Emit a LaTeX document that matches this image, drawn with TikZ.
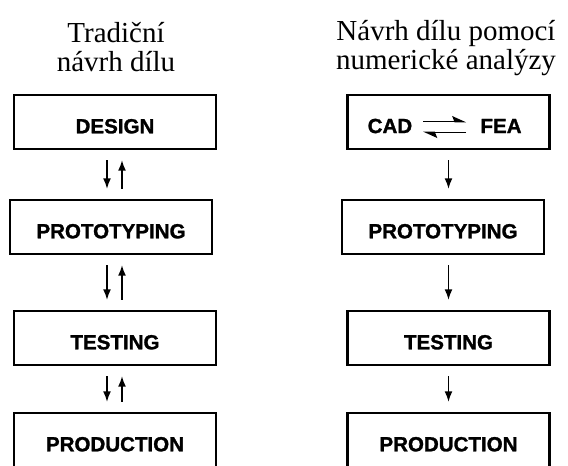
\documentclass[tikz,border=0pt]{standalone}
\usepackage{fontspec}
\setmainfont{Liberation Serif}
\setsansfont{Liberation Sans}
\newfontfamily\heavyfont{Liberation Sans}[BoldFeatures={FakeBold=1.3}]
\usetikzlibrary{arrows.meta}

\begin{document}
\begin{tikzpicture}[x=0.75pt, y=-0.75pt,
    stage/.style={draw, line width=1.6pt, minimum width=151.5pt, minimum height=40.5pt, inner sep=0pt,
        text height=17pt, text depth=0pt, font=\heavyfont\bfseries\fontsize{15.4}{15.4}\selectfont},
    word/.style={inner sep=0pt, font=\heavyfont\bfseries\fontsize{15.4}{15.4}\selectfont},
    heading/.style={align=center, inner sep=0pt, anchor=base, font=\fontsize{21.75}{21.75}\selectfont},
    flow/.style={line width=1.2pt, -{Latex[length=8pt,width=6pt]}, shorten <=7.5pt, shorten >=7.5pt},
    harp/.style={line width=1.3pt, -{Stealth[harpoon,length=9pt,width=8pt,inset=1.5pt]}}]
    \clip (0,0) rectangle (568,465) ;

    \node [heading] (oldtitle) at (116,71) {Tradiční\\návrh dílu} ;
    \node [heading] (newtitle) at (446,69) {Návrh dílu pomocí\\numerické analýzy} ;

    \node [stage] (design) at (115,122) {DESIGN} ;
    \node [stage] (proto) at (111,227) {PROTOTYPING} ;
    \node [stage] (testing) at (115,338) {TESTING} ;
    \node [stage] (production) at (115,440) {PRODUCTION} ;

    \draw [flow] ([xshift=-6pt]design.south) -- ([xshift=-6pt]design.south |- proto.north) ;
    \draw [flow] ([xshift=5.25pt]design.south |- proto.north) -- ([xshift=5.25pt]design.south) ;
    \draw [flow] ([xshift=-6pt]testing.north |- proto.south) -- ([xshift=-6pt]testing.north) ;
    \draw [flow] ([xshift=5.25pt]testing.north) -- ([xshift=5.25pt]testing.north |- proto.south) ;
    \draw [flow] ([xshift=-6pt]testing.south) -- ([xshift=-6pt]testing.south |- production.north) ;
    \draw [flow] ([xshift=5.25pt]testing.south |- production.north) -- ([xshift=5.25pt]testing.south) ;

    \node [stage] (analysis) at (448.5,122) {} ;
    \node [word] (cad) at ([xshift=-43.9pt,yshift=-3pt]analysis.center) {CAD} ;
    \node [word] (fea) at ([xshift=39.4pt,yshift=-3pt]analysis.center) {FEA} ;
    \node [stage] (proto2) at (443,227) {PROTOTYPING} ;
    \node [stage] (testing2) at (448.5,338) {TESTING} ;
    \node [stage] (production2) at (448.5,440) {PRODUCTION} ;

    \draw [harp, shorten <=8pt, shorten >=10.5pt] ([yshift=3.4pt]cad.east) -- ([yshift=3.4pt]cad.east -| fea.west) ;
    \draw [harp, shorten <=10.5pt, shorten >=8pt] ([yshift=-4.9pt]fea.west) -- ([yshift=-4.9pt]fea.west -| cad.east) ;

    \draw [flow] (analysis.south) -- (analysis.south |- proto2.north) ;
    \draw [flow] (testing2.north |- proto2.south) -- (testing2.north) ;
    \draw [flow] (testing2.south) -- (production2.north) ;
\end{tikzpicture}
\end{document}
